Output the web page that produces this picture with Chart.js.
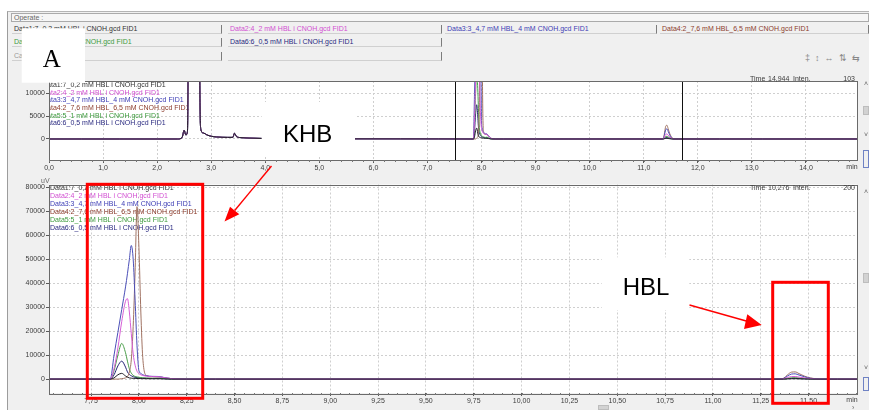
<!DOCTYPE html>
<html>
<head>
<meta charset="utf-8">
<title>FID chromatograms</title>
<script src="https://cdn.jsdelivr.net/npm/chart.js@4.4.1/dist/chart.umd.min.js"></script>
<style>
  body { margin: 0; width: 869px; height: 410px; position: relative; overflow: hidden; background: #fff;
         font-family: "Liberation Sans", Arial, sans-serif; }
  #panel { position: absolute; left: 7px; top: 11px; width: 862px; height: 399px; background: #f0f0f0;
           border-left: 1px solid #9c9c9c; border-top: 1px solid #b4b4b4; }
  .box { position: absolute; height: 9px; font-size: 7px; line-height: 8px; white-space: nowrap; overflow: hidden;
         padding-left: 2px; box-sizing: border-box; }
  .fld { border-right: 1px solid #7c7c7c; border-bottom: 1px solid #d0d0d0; }
  canvas { position: absolute; left: 0; }
  #topChart { top: 70px; }
  #bottomChart { top: 175px; }
  .tiny { position: absolute; font-size: 7px; line-height: 7px; color: #666; }
  .thumb { position: absolute; background: #d2d2d2; border: 1px solid #bdbdbd; box-sizing: border-box; }
  .icon { position: absolute; border: 1px solid #6f82c4; box-sizing: border-box; }
  #marks { position: absolute; left: 0; top: 0; }
</style>
</head>
<body>
<div id="panel"></div>

<!-- header rows -->
<div class="box" style="left:11px;top:13px;width:858px;border:1px solid #aaa;background:#f6f6f6;color:#666;">Operate :</div>
<div class="box fld" style="left:12px;top:25px;width:210px;color:#333;">Data1:7_0,2 mM HBL i CNOH.gcd FID1</div>
<div class="box fld" style="left:228px;top:25px;width:214px;color:#d24fd2;">Data2:4_2 mM HBL i CNOH.gcd FID1</div>
<div class="box fld" style="left:445px;top:25px;width:212px;color:#3d3db5;">Data3:3_4,7 mM HBL_4 mM CNOH.gcd FID1</div>
<div class="box fld" style="left:660px;top:25px;width:209px;color:#8c3c2c;">Data4:2_7,6 mM HBL_6,5 mM CNOH.gcd FID1</div>
<div class="box fld" style="left:12px;top:38px;width:210px;color:#3c9a3c;">Data5:5_1 mM HBL i CNOH.gcd FID1</div>
<div class="box fld" style="left:228px;top:38px;width:214px;color:#2a2a80;">Data6:6_0,5 mM HBL i CNOH.gcd FID1</div>
<div class="box fld" style="left:12px;top:52px;width:210px;color:#999;">Cal Curve</div>
<div class="box fld" style="left:228px;top:52px;width:214px;"></div>
<div class="tiny" style="left:805px;top:54px;font-size:9px;line-height:9px;color:#888;letter-spacing:5px;">‡↕↔⇅⇆</div>

<canvas id="topChart" width="869" height="110"></canvas>
<canvas id="bottomChart" width="869" height="235"></canvas>

<div class="tiny" style="left:41px;top:177px;">uV</div>

<!-- right-hand scroll strips -->
<div class="tiny" style="left:864px;top:80px;">˄</div>
<div class="thumb" style="left:863px;top:106px;width:6px;height:9px;"></div>
<div class="tiny" style="left:864px;top:131px;">˅</div>
<div class="icon" style="left:863px;top:150px;width:6px;height:18px;"></div>
<div class="tiny" style="left:864px;top:188px;">˄</div>
<div class="thumb" style="left:863px;top:273px;width:6px;height:10px;"></div>
<div class="tiny" style="left:864px;top:364px;">˅</div>
<div class="icon" style="left:863px;top:377px;width:6px;height:14px;"></div>
<div class="thumb" style="left:598px;top:405px;width:11px;height:5px;"></div>
<div class="tiny" style="left:852px;top:404px;">›</div>

<svg id="marks" width="869" height="410">
  <rect x="21.7" y="28.3" width="63.3" height="54.4" fill="#fff"/>
  <text x="51.7" y="66.7" text-anchor="middle" font-family="Liberation Serif, Times New Roman, serif" font-size="25" fill="#000">A</text>
  <rect x="261.7" y="102" width="93.3" height="53" fill="#fff"/>
  <text x="283" y="141.7" font-family="Liberation Sans, Arial, sans-serif" font-size="24" fill="#000">KHB</text>
  <rect x="601.7" y="257.3" width="87.6" height="52.7" fill="#fff"/>
  <text x="622.7" y="295" font-family="Liberation Sans, Arial, sans-serif" font-size="24" fill="#000">HBL</text>
  <rect x="87.3" y="184.3" width="115.4" height="214" fill="none" stroke="#ff0000" stroke-width="3"/>
  <rect x="772.7" y="282.3" width="55.6" height="121" fill="none" stroke="#ff0000" stroke-width="3"/>
  <line x1="271.5" y1="166" x2="234.7" y2="210.5" stroke="#ff0000" stroke-width="1.4"/>
  <polygon points="224.5,221.5 230,206.7 239.3,214.3" fill="#ff0000"/>
  <line x1="689.5" y1="305" x2="748" y2="321.5" stroke="#ff0000" stroke-width="1.4"/>
  <polygon points="761.7,325 747.3,314.3 744,329" fill="#ff0000"/>
</svg>

<script>
// six FID traces, same order as the legend
const seriesNames = [
  'Data1:7_0,2 mM HBL i CNOH.gcd FID1',
  'Data2:4_2 mM HBL i CNOH.gcd FID1',
  'Data3:3_4,7 mM HBL_4 mM CNOH.gcd FID1',
  'Data4:2_7,6 mM HBL_6,5 mM CNOH.gcd FID1',
  'Data5:5_1 mM HBL i CNOH.gcd FID1',
  'Data6:6_0,5 mM HBL i CNOH.gcd FID1'
];
const lineColors = ['#1c1c24', '#d65ed6', '#4c50b8', '#a07262', '#4a9e4a', '#262676'];
const textColors = ['#333333', '#d24fd2', '#3d3db5', '#8c3c2c', '#3c9a3c', '#2a2a80'];

// retention times (min) and signal (uV)
const startTimes = [0, 0.6, 1.3, 2.0];
const startValues = [0, 0, 0, 0];

// solvent front, identical in every run (mostly off scale)
const solventTimes = [2.38, 2.46, 2.50, 2.53, 2.56, 2.58, 2.60, 2.70, 2.77, 2.785, 2.81, 2.86, 2.92, 3.0, 3.1, 3.3, 3.40, 3.43, 3.47, 3.55, 3.7, 4.0];
const solventValues = [0, 300, 1900, 900, 1500, 30000, 90000, 90000, 90000, 20000, 2000, 1300, 900, 600, 450, 350, 350, 1250, 500, 300, 200, 100];

const quietTimes = [4.5, 5.5, 6.5, 7.2, 7.8];
const quietValues = [60, 40, 30, 20, 0];

// KHB peak
const khbTimes = [7.85, 7.87, 7.89, 7.91, 7.93, 7.94, 7.95, 7.96, 7.97, 7.98, 7.99, 8.00, 8.01, 8.02, 8.04, 8.07, 8.10, 8.13, 8.17, 8.25];
const khb1 = [0, 500, 1800, 2400, 1300, 800, 500, 400, 330, 290, 260, 240, 220, 200, 170, 140, 150, 90, 20, 0];
const khb2 = [0, 4500, 13000, 24000, 32500, 33600, 28000, 19000, 10500, 5800, 3300, 2300, 1800, 1500, 1200, 1050, 1000, 650, 200, 0];
const khb3 = [0, 10000, 19500, 29000, 38500, 44000, 50000, 55800, 50000, 33000, 14000, 3500, 2400, 1800, 1400, 1150, 1100, 700, 200, 0];
const khb4 = [0, 0, 0, 200, 500, 1000, 3000, 8000, 22000, 45000, 72000, 55000, 28000, 9000, 1500, 1000, 950, 650, 200, 0];
const khb5 = [0, 3500, 10000, 14900, 11000, 7500, 4300, 2500, 1600, 1100, 900, 750, 650, 550, 450, 350, 400, 250, 50, 0];
const khb6 = [0, 1800, 5500, 7500, 5000, 3000, 1900, 1400, 1000, 750, 600, 500, 430, 380, 320, 260, 300, 180, 40, 0];

const lateTimes = [8.4, 9.0, 9.6, 10.3, 11.0, 11.3];
const lateValues = [0, 0, 0, 0, 0, 0];

// HBL peak
const hblTimes = [11.34, 11.37, 11.39, 11.41, 11.43, 11.45, 11.48, 11.51, 11.56];
const hbl1 = [0, 20, 90, 140, 150, 110, 60, 20, 0];
const hbl2 = [0, 150, 700, 1050, 1100, 850, 450, 200, 0];
const hbl3 = [0, 300, 1300, 2100, 2200, 1700, 900, 350, 0];
const hbl4 = [0, 400, 1800, 2900, 3000, 2300, 1200, 500, 0];
const hbl5 = [0, 80, 350, 550, 600, 450, 250, 100, 0];
const hbl6 = [0, 40, 180, 280, 300, 230, 120, 50, 0];

const tailTimes = [11.65, 12.4, 13.2, 14.0, 14.944];
const tailValues = [0, 0, 0, 0, 0];

const khbSets = [khb1, khb2, khb3, khb4, khb5, khb6];
const hblSets = [hbl1, hbl2, hbl3, hbl4, hbl5, hbl6];

// axes
const topRange = [0, 14.944];
const topXTicks = [0, 1, 2, 3, 4, 5, 6, 7, 8, 9, 10, 11, 12, 13, 14];
const topYRange = [-4600, 12700];
const topYTicks = [0, 5000, 10000];
const bottomRange = [7.53, 11.753];
const bottomXTicks = [7.75, 8.0, 8.25, 8.5, 8.75, 9.0, 9.25, 9.5, 9.75, 10.0, 10.25, 10.5, 10.75, 11.0, 11.25, 11.5];
const bottomYRange = [-5800, 81250];
const bottomYTicks = [0, 10000, 20000, 30000, 40000, 50000, 60000, 70000, 80000];
const zoomMarks = [7.51, 11.70]; // window of the lower plot, shown in the upper one

Chart.defaults.font.family = '"Liberation Sans", Arial, sans-serif';

function seriesPoints(i) {
  const t = [].concat(startTimes, solventTimes, quietTimes, khbTimes, lateTimes, hblTimes, tailTimes);
  const v = [].concat(startValues, solventValues, quietValues, khbSets[i], lateValues, hblSets[i], tailValues);
  return t.map((x, k) => ({ x: x, y: v[k] }));
}

function datasets() {
  return seriesNames.map((name, i) => ({
    label: name,
    data: seriesPoints(i),
    borderColor: lineColors[i],
    borderWidth: 1,
    pointRadius: 0,
    cubicInterpolationMode: 'monotone'
  }));
}

function xScale(range, ticks, digits, height) {
  return {
    type: 'linear', min: range[0], max: range[1],
    afterBuildTicks: s => { s.ticks = ticks.map(v => ({ value: v })); },
    afterFit: s => { s.height = height; },
    ticks: { autoSkip: false, maxRotation: 0, padding: 1, color: '#3c3c3c', font: { size: 7 },
             callback: v => v.toFixed(digits).replace('.', ',') },
    grid: { color: '#cfcfcf', tickColor: '#5a5a5a', tickLength: 3, tickBorderDash: [] },
    border: { display: false, dash: [2, 2] }
  };
}

function yScale(range, ticks) {
  return {
    min: range[0], max: range[1],
    afterBuildTicks: s => { s.ticks = ticks.map(v => ({ value: v })); },
    afterFit: s => { s.width = 49; },
    ticks: { padding: 1, color: '#3c3c3c', font: { size: 7 }, callback: v => String(v) },
    grid: { color: '#cfcfcf', tickColor: '#5a5a5a', tickLength: 3, tickBorderDash: [] },
    border: { display: false, dash: [2, 2] }
  };
}

// white plot, frame, minor ticks, in-plot legend and readout
const plotExtras = {
  id: 'plotExtras',
  beforeDraw(chart) {
    const a = chart.chartArea, ctx = chart.ctx;
    ctx.save();
    ctx.fillStyle = '#fff';
    ctx.fillRect(a.left, a.top, a.right - a.left, a.bottom - a.top);
    ctx.restore();
  },
  beforeDatasetsDraw(chart, args, o) {
    const a = chart.chartArea, ctx = chart.ctx;
    ctx.save();
    ctx.beginPath();
    ctx.rect(a.left, a.top, a.right - a.left, a.bottom - a.top);
    ctx.clip();
    ctx.font = '7px "Liberation Sans", Arial, sans-serif';
    ctx.textBaseline = 'middle';
    seriesNames.forEach((n, i) => {
      ctx.fillStyle = textColors[i];
      ctx.fillText(n, o.legendX, o.legendY + i * o.legendStep);
    });
    ctx.restore();
  },
  afterDatasetsDraw(chart, args, o) {
    const a = chart.chartArea, ctx = chart.ctx, xs = chart.scales.x;
    ctx.save();
    ctx.strokeStyle = '#111';
    ctx.lineWidth = 1;
    o.marks.forEach(m => {
      const px = Math.round(xs.getPixelForValue(m)) + 0.5;
      ctx.beginPath();
      ctx.moveTo(px, a.top);
      ctx.lineTo(px, a.bottom);
      ctx.stroke();
    });
    ctx.restore();
  },
  afterDraw(chart, args, o) {
    const a = chart.chartArea, ctx = chart.ctx, xs = chart.scales.x;
    ctx.save();
    ctx.strokeStyle = '#6a6a6a';
    ctx.lineWidth = 1;
    ctx.strokeRect(Math.round(a.left) + 0.5, Math.round(a.top) + 0.5,
                   Math.round(a.right - a.left), Math.round(a.bottom - a.top));
    // minor ticks on the time axis
    ctx.strokeStyle = '#777';
    ctx.beginPath();
    for (let t = Math.ceil(xs.min / o.minorStep) * o.minorStep; t < xs.max; t += o.minorStep) {
      const px = Math.round(xs.getPixelForValue(t)) + 0.5;
      ctx.moveTo(px, a.bottom);
      ctx.lineTo(px, a.bottom + 2);
    }
    ctx.stroke();
    ctx.font = '7px "Liberation Sans", Arial, sans-serif';
    ctx.fillStyle = '#3c3c3c';
    ctx.textBaseline = 'middle';
    ctx.textAlign = 'center';
    ctx.fillText('min', a.right - 5, a.bottom + 7.5);
    ctx.textAlign = 'left';
    ctx.fillText('Time', 750, o.infoY);
    ctx.fillText(o.info[0], 768, o.infoY);
    ctx.fillText('Inten.', 793, o.infoY);
    ctx.textAlign = 'right';
    ctx.fillText(o.info[1], 855, o.infoY);
    ctx.restore();
  }
};

new Chart(document.getElementById('topChart'), {
  type: 'line',
  data: { datasets: datasets() },
  options: {
    responsive: false, animation: false, devicePixelRatio: 1,
    layout: { padding: { top: 11, right: 12, left: 0, bottom: 0 } },
    scales: { x: xScale(topRange, topXTicks, 1, 20), y: yScale(topYRange, topYTicks) },
    plugins: {
      legend: { display: false }, tooltip: { enabled: false },
      plotExtras: { legendX: 42, legendY: 15, legendStep: 7.7, minorStep: 0.2,
                    info: ['14,944', '103'], infoY: 9.5, marks: zoomMarks }
    }
  },
  plugins: [plotExtras]
});

new Chart(document.getElementById('bottomChart'), {
  type: 'line',
  data: { datasets: datasets() },
  options: {
    responsive: false, animation: false, devicePixelRatio: 1,
    layout: { padding: { top: 9.5, right: 12, left: 0, bottom: 0 } },
    scales: { x: xScale(bottomRange, bottomXTicks, 2, 17), y: yScale(bottomYRange, bottomYTicks) },
    plugins: {
      legend: { display: false }, tooltip: { enabled: false },
      plotExtras: { legendX: 50, legendY: 13.3, legendStep: 8, minorStep: 0.05,
                    info: ['10,276', '200'], infoY: 13, marks: [] }
    }
  },
  plugins: [plotExtras]
});
</script>
</body>
</html>
